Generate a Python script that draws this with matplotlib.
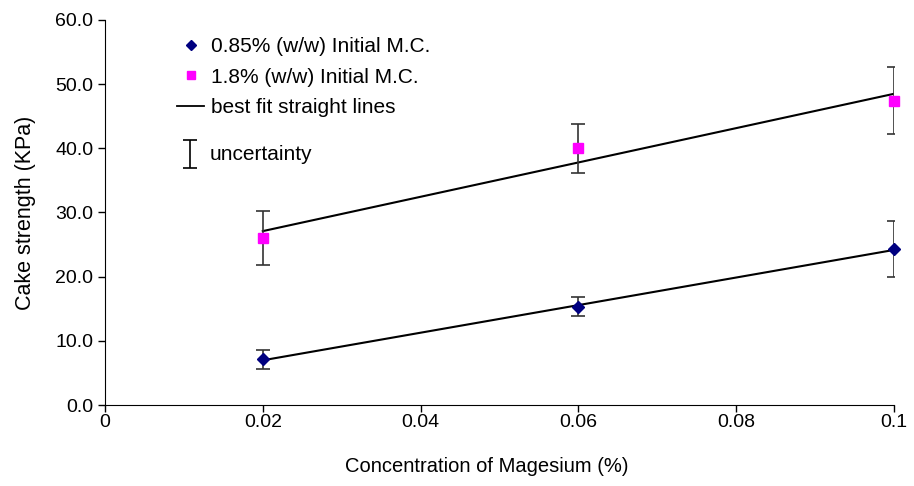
import numpy as np
import matplotlib
matplotlib.use("Agg")
import matplotlib.pyplot as plt
from matplotlib.lines import Line2D

plt.rcParams['font.family'] = ['Liberation Sans', 'DejaVu Sans']

# data
mg_conc = [0.02, 0.06, 0.1]
strength_085 = [7.1, 15.3, 24.3]
err_085 = [1.5, 1.5, 4.3]
strength_18 = [26.0, 40.0, 47.4]
err_18 = [4.2, 3.8, 5.2]
x_ticks = [0, 0.02, 0.04, 0.06, 0.08, 0.1]
x_tick_labels = ['0', '0.02', '0.04', '0.06', '0.08', '0.1']
y_ticks = [0, 10, 20, 30, 40, 50, 60]

fig = plt.figure(figsize=(9.14, 4.86), dpi=100)
ax = fig.add_axes([105/914, 1-405/486, (894-105)/914, (405-20)/486])

x = np.array(mg_conc)
# best fit lines
for ys in (strength_085, strength_18):
    p = np.polyfit(x, ys, 1)
    ax.plot(x, np.polyval(p, x), color='black', lw=1.5, zorder=2)

ax.errorbar(x, strength_085, yerr=err_085, fmt='none', ecolor='#333333',
            elinewidth=1.2, capsize=5, capthick=1.2, zorder=3)
ax.errorbar(x, strength_18, yerr=err_18, fmt='none', ecolor='#333333',
            elinewidth=1.2, capsize=5, capthick=1.2, zorder=3)
ax.plot(x, strength_085, 'D', color='#000080', ms=6, zorder=4, clip_on=False)
ax.plot(x, strength_18, 's', color='#FF00FF', ms=7, mec='#FF00FF', zorder=4, clip_on=False)

ax.set_xlim(0, 0.1)
ax.set_ylim(0, 60)
ax.set_xticks(x_ticks)
ax.set_xticklabels(x_tick_labels)
ax.set_yticks(y_ticks)
ax.set_yticklabels(['%.1f' % v for v in y_ticks])
ax.tick_params(labelsize=14, direction='out', length=5, width=1)
ax.tick_params(axis='x', pad=1.5)
ax.spines['top'].set_visible(False)
ax.spines['right'].set_visible(False)
ax.set_xlabel('Concentration of Magesium (%)', fontsize=14.5)
ax.xaxis.set_label_coords(0.484, -0.135)
ax.set_ylabel('Cake strength (KPa)', fontsize=15.5, labelpad=14)

handles = [
    Line2D([], [], marker='D', color='#000080', ls='none', ms=5),
    Line2D([], [], marker='s', color='#FF00FF', ls='none', ms=6),
    Line2D([], [], color='black', lw=1.3),
]
labels = ['0.85% (w/w) Initial M.C.', '1.8% (w/w) Initial M.C.', 'best fit straight lines']
ax.legend(handles, labels, loc='upper left', bbox_to_anchor=(0.078, 0.983),
          frameon=False, fontsize=15, handlelength=1.3, handletextpad=0.35,
          labelspacing=0.56, borderpad=0)

# uncertainty key
ax.errorbar([0.0108], [39.1], yerr=[2.2], fmt='none', ecolor='black',
            elinewidth=1.2, capsize=5, capthick=1.2, clip_on=False)
ax.text(0.0133, 39.1, 'uncertainty', fontsize=15, va='center', ha='left')

fig.savefig('out.png', dpi=100)
